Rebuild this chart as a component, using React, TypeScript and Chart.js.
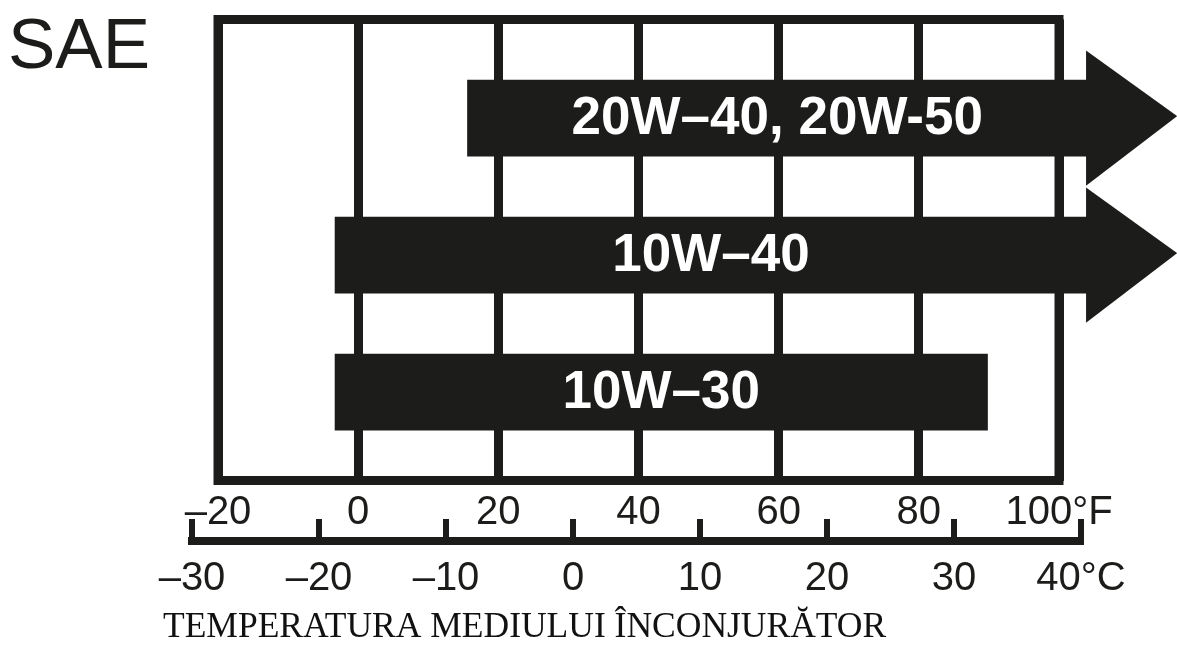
import React, { useEffect, useRef } from 'react';
import { Chart, registerables } from 'chart.js';

Chart.register(...registerables);

// ---- data ----
const GRADES = ['20W–40, 20W-50', '10W–40', '10W–30'];
const RANGE_START_F = [15.6, -3.3, -3.3];
const RANGE_END_F = [104, 104, 89.8];
const OPEN_ENDED = [true, true, false];

const F_TICKS = [-20, 0, 20, 40, 60, 80, 100];
const F_TICK_LABELS = ['–20', '0', '20', '40', '60', '80', '100°F'];
const C_TICKS = [-30, -20, -10, 0, 10, 20, 30, 40];
const C_TICK_LABELS = ['–30', '–20', '–10', '0', '10', '20', '30', '40°C'];

const TITLE = 'SAE';
const CAPTION = 'TEMPERATURA MEDIULUI ÎNCONJURĂTOR';

// ---- style ----
const INK = '#1c1c1a';
const W = 1177;
const H = 655;
const SANS = '"Liberation Sans", Arial, Helvetica, sans-serif';
const SERIF = '"Liberation Serif", "Times New Roman", serif';

const framePlugin = {
  id: 'frame',
  beforeDatasetsDraw(chart: any) {
    const { ctx, chartArea: a } = chart;
    ctx.save();
    ctx.strokeStyle = INK;
    ctx.lineWidth = 9;
    ctx.lineJoin = 'miter';
    ctx.strokeRect(a.left, a.top, a.right - a.left, a.bottom - a.top);
    ctx.restore();
  },
};

const arrowPlugin = {
  id: 'arrows',
  afterDatasetsDraw(chart: any) {
    const { ctx } = chart;
    const meta = chart.getDatasetMeta(0);
    ctx.save();
    ctx.fillStyle = INK;
    meta.data.forEach((el: any, i: number) => {
      if (!OPEN_ENDED[i]) return;
      const { x, y, height } = el.getProps(['x', 'y', 'height'], true);
      const half = height * 0.89;
      const len = 90;
      ctx.beginPath();
      ctx.moveTo(x - 1, y - half);
      ctx.lineTo(x + len, y - 2);
      ctx.lineTo(x - 1, y + half);
      ctx.closePath();
      ctx.fill();
    });
    ctx.restore();
  },
};

const barLabelPlugin = {
  id: 'barLabels',
  afterDatasetsDraw(chart: any) {
    const { ctx } = chart;
    const meta = chart.getDatasetMeta(0);
    ctx.save();
    ctx.fillStyle = '#ffffff';
    ctx.font = `bold 53px ${SANS}`;
    ctx.textAlign = 'center';
    ctx.textBaseline = 'middle';
    meta.data.forEach((el: any, i: number) => {
      const { x, y, base } = el.getProps(['x', 'y', 'base'], true);
      ctx.fillText(GRADES[i], (x + base) / 2, y + 1);
    });
    ctx.restore();
  },
};

const textPlugin = {
  id: 'texts',
  afterDraw(chart: any) {
    const { ctx } = chart;
    ctx.save();
    ctx.fillStyle = INK;
    ctx.textAlign = 'left';
    ctx.textBaseline = 'alphabetic';
    ctx.font = `71px ${SANS}`;
    ctx.fillText(TITLE, 8, 68);
    ctx.fillStyle = '#111';
    ctx.font = `35.5px ${SERIF}`;
    ctx.fillText(CAPTION, 163, 637);
    ctx.restore();
  },
};

export default function App() {
  const mainRef = useRef<HTMLCanvasElement | null>(null);
  const cRef = useRef<HTMLCanvasElement | null>(null);

  useEffect(() => {
    document.body.style.margin = '0';
    const main = new Chart(mainRef.current as HTMLCanvasElement, {
      type: 'bar',
      data: {
        datasets: [
          {
            data: GRADES.map((_, i) => ({ y: i, x: [RANGE_START_F[i], RANGE_END_F[i]] })) as any,
            backgroundColor: INK,
            borderWidth: 0,
            barThickness: 76,
            clip: false as any,
          },
        ],
      },
      options: {
        indexAxis: 'y',
        responsive: false,
        animation: false,
        layout: { padding: { left: 218, right: 118, top: 19.5, bottom: 114.5 } },
        plugins: { legend: { display: false }, tooltip: { enabled: false } },
        scales: {
          x: {
            type: 'linear',
            position: 'bottom',
            min: F_TICKS[0],
            max: F_TICKS[F_TICKS.length - 1],
            afterBuildTicks: (s: any) => {
              s.ticks = F_TICKS.map((v) => ({ value: v }));
            },
            ticks: {
              padding: 8,
              color: INK,
              maxRotation: 0,
              autoSkip: false,
              font: { family: SANS, size: 40 },
              callback: (v: any) => F_TICK_LABELS[F_TICKS.indexOf(Number(v))],
            },
            grid: { color: INK, lineWidth: 9, drawTicks: false },
            border: { display: false },
            afterFit: (s: any) => {
              s.height = 60;
            },
          },
          y: {
            type: 'linear',
            min: -0.72,
            max: 2.645,
            reverse: true,
            offset: false,
            grace: 0,
            display: false,
          },
        },
      } as any,
      plugins: [framePlugin, arrowPlugin, barLabelPlugin, textPlugin],
    });

    const cChart = new Chart(cRef.current as HTMLCanvasElement, {
      type: 'scatter',
      data: { datasets: [] },
      options: {
        responsive: false,
        animation: false,
        layout: { padding: { left: 192, right: 96, top: 519, bottom: 54 } },
        plugins: { legend: { display: false }, tooltip: { enabled: false } },
        scales: {
          x: {
            type: 'linear',
            position: 'bottom',
            min: C_TICKS[0],
            max: C_TICKS[C_TICKS.length - 1],
            afterBuildTicks: (s: any) => {
              s.ticks = C_TICKS.map((v) => ({ value: v }));
            },
            ticks: {
              padding: 14,
              color: INK,
              maxRotation: 0,
              autoSkip: false,
              font: { family: SANS, size: 40 },
              callback: (v: any) => C_TICK_LABELS[C_TICKS.indexOf(Number(v))],
            },
            grid: { color: INK, lineWidth: 6, drawTicks: false },
            border: { display: true, color: INK, width: 8 },
            afterFit: (s: any) => {
              s.height = 60;
            },
          },
          y: { display: false },
        },
      } as any,
    });

    return () => {
      main.destroy();
      cChart.destroy();
    };
  }, []);

  return (
    <div style={{ position: 'fixed', left: 0, top: 0, width: W, height: H, background: '#fff' }}>
      <canvas ref={mainRef} width={W} height={H} style={{ position: 'absolute', left: 0, top: 0, width: W, height: H }} />
      <canvas ref={cRef} width={W} height={H} style={{ position: 'absolute', left: 0, top: 0, width: W, height: H }} />
    </div>
  );
}
